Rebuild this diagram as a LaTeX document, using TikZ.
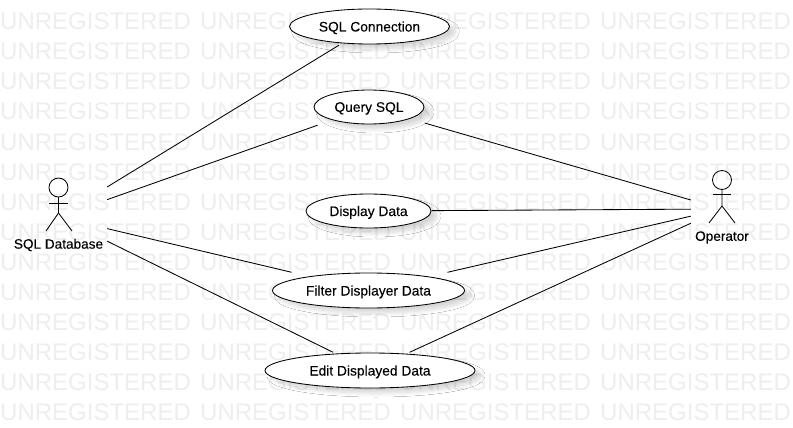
\documentclass[tikz,border=0pt]{standalone}
\usepackage{fontspec}
\setmainfont{Liberation Sans}
\newfontfamily\labelfont[FakeBold=0.2]{Liberation Sans}
\usetikzlibrary{shapes.geometric,shadows.blur}
\definecolor{wm}{HTML}{EEEEEE}
\tikzset{
  x=1pt,y=-1pt,
  mark text/.style={font=\fontsize{24}{24}\selectfont,text=wm,inner sep=0pt,anchor=base west},
  usecase/.style={ellipse,draw=black,line width=.85pt,fill=white,inner sep=0pt,
    font=\labelfont\fontsize{13.8}{15}\selectfont,text depth=0pt,
    blur shadow={shadow xshift=6pt,shadow yshift=-5pt,shadow blur steps=8,shadow blur radius=4pt,shadow opacity=16}},
  casebox/.style={rectangle,inner sep=0pt},
  actorbox/.style={inner sep=0pt,minimum height=76pt},
  actorname/.style={font=\labelfont\fontsize{13.6}{15}\selectfont,inner sep=0pt},
  assoc/.style={draw=black,line width=.85pt},
  figure line/.style={draw=black,line width=.85pt}
}
\begin{document}
\begin{tikzpicture}
\useasboundingbox (0,0) rectangle (793,428);
\fill[white] (0,0) rectangle (793,428);
\foreach \r in {0,...,13}{
  \foreach \c in {0,...,3}{
    \node[mark text] (w\r-\c) at ({\c*200},{30+\r*30}) {UNREGISTERED};
  }
}
% use cases
\node[usecase,minimum width=160pt,minimum height=35pt] (conn) at (369.5,26.5) {SQL Connection};
\node[usecase,minimum width=110pt,minimum height=34pt] (query) at (369,107) {Query SQL};
\node[usecase,minimum width=125pt,minimum height=34pt] (disp) at (368.5,211) {Display Data};
\node[usecase,minimum width=192pt,minimum height=35pt] (filt) at (368.5,290.5) {Filter Displayer Data};
\node[usecase,minimum width=210pt,minimum height=35pt] (edit) at (370,370.5) {Edit Displayed Data};
% connectors stop at the bounding rectangle of each ellipse
\node[casebox,minimum width=161pt,minimum height=37pt] (connb) at (conn) {};
\node[casebox,minimum width=111pt,minimum height=36pt] (queryb) at (query) {};
\node[casebox,minimum width=126pt,minimum height=36pt] (dispb) at (disp) {};
\node[casebox,minimum width=193pt,minimum height=36pt] (filtb) at (filt) {};
\node[casebox,minimum width=211pt,minimum height=36pt] (editb) at (edit) {};
% actors (invisible extent boxes used by connectors)
\node[actorbox,minimum width=98pt] (db) at (58,217) {};
\node[actorbox,minimum width=62pt] (op) at (722,209) {};
% SQL Database figure
\draw[figure line] (58.5,187.5) circle (9.5);
\draw[figure line] (49,203) -- (68,203);
\draw[figure line] (58.5,197) -- (58.5,213) -- (46,231);
\draw[figure line] (58.5,213) -- (72,231);
\node[actorname] (dbname) at (58.5,245) {SQL Database};
% Operator figure
\draw[figure line] (722,180) circle (9.5);
\draw[figure line] (713,194) -- (731,194);
\draw[figure line] (722,189.5) -- (722,206) -- (709,223);
\draw[figure line] (722,206) -- (735,223);
\node[actorname] (opname) at (722,237.5) {Operator};
% connectors
\draw[assoc] (db) -- (connb);
\draw[assoc] (db) -- (queryb);
\draw[assoc] (db) -- (filtb);
\draw[assoc] (db) -- (editb);
\draw[assoc] (op) -- (queryb);
\draw[assoc] (op) -- (dispb);
\draw[assoc] (op) -- (filtb);
\draw[assoc] (op) -- (editb);
\end{tikzpicture}
\end{document}
